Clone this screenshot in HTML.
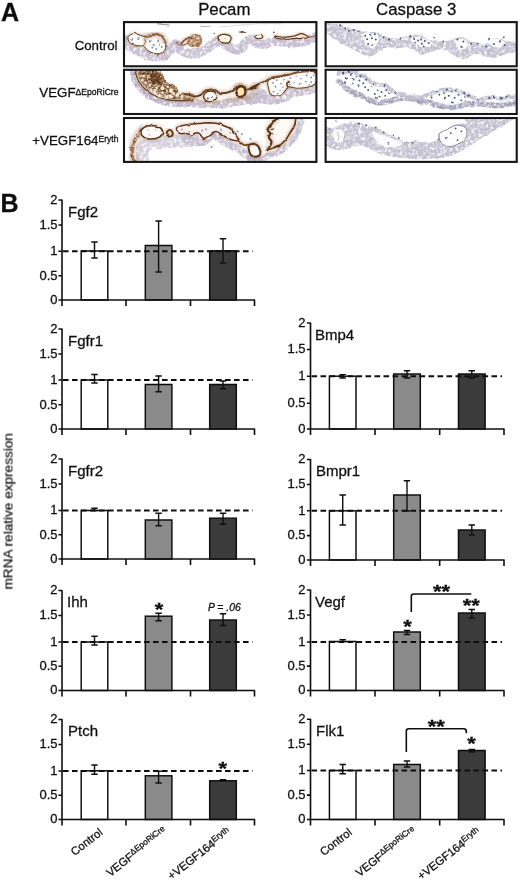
<!DOCTYPE html>
<html lang="en"><head><meta charset="utf-8"><title>Figure</title>
<style>html,body{margin:0;padding:0;background:#fff}body{width:520px;height:880px;overflow:hidden}svg{display:block}text{font-family:"Liberation Sans", sans-serif;fill:#111;stroke:#111;stroke-width:0.28px}</style></head><body>
<svg width="520" height="880" viewBox="0 0 520 880">
<rect width="520" height="880" fill="#fff"/>
<defs><filter id="soft" x="0" y="0" width="520" height="880" filterUnits="userSpaceOnUse"><feGaussianBlur stdDeviation="0.38"/></filter></defs>
<g filter="url(#soft)">
<text x="1" y="20.5" font-size="25" font-weight="bold">A</text>
<text x="224.3" y="14.8" text-anchor="middle" font-size="16.8">Pecam</text>
<text x="416.2" y="14.8" text-anchor="middle" font-size="16.8">Caspase 3</text>
<text x="117.5" y="50" text-anchor="end" font-size="13.3">Control</text>
<text x="118.5" y="97.3" text-anchor="end" font-size="13.3">VEGF<tspan font-size="8.6" dy="-2.8">ΔEpoRiCre</tspan></text>
<text x="118.5" y="145" text-anchor="end" font-size="13.3">+VEGF164<tspan font-size="8.6" dy="-2.8">Eryth</tspan></text>
<defs><filter id="b3" x="-20%" y="-20%" width="140%" height="140%"><feGaussianBlur stdDeviation="0.3"/></filter><filter id="b4" x="-20%" y="-20%" width="140%" height="140%"><feGaussianBlur stdDeviation="0.45"/></filter><filter id="b6" x="-20%" y="-20%" width="140%" height="140%"><feGaussianBlur stdDeviation="0.7"/></filter><filter id="b8" x="-20%" y="-20%" width="140%" height="140%"><feGaussianBlur stdDeviation="0.9"/></filter><filter id="mot" x="-10%" y="-40%" width="120%" height="180%"><feTurbulence type="fractalNoise" baseFrequency="0.3" numOctaves="2" seed="7" result="n"/><feColorMatrix in="n" type="matrix" values="0 0 0 0 0.55  0 0 0 0 0.51  0 0 0 0 0.68  3.8 0 0 0 -1.7" result="s"/><feComposite in="s" in2="SourceGraphic" operator="in" result="sp"/><feColorMatrix in="n" type="matrix" values="0 0 0 0 0  0 0 0 0 0  0 0 0 0 0  0 3.0 0 0 -0.8" result="a"/><feComposite in="SourceGraphic" in2="a" operator="in" result="base"/><feMerge result="m"><feMergeNode in="base"/><feMergeNode in="sp"/></feMerge><feGaussianBlur in="m" stdDeviation="0.55"/></filter><filter id="motc" x="-10%" y="-40%" width="120%" height="180%"><feTurbulence type="fractalNoise" baseFrequency="0.32" numOctaves="2" seed="9" result="n"/><feColorMatrix in="n" type="matrix" values="0 0 0 0 0.5  0 0 0 0 0.49  0 0 0 0 0.62  3.8 0 0 0 -1.7" result="s"/><feComposite in="s" in2="SourceGraphic" operator="in" result="sp"/><feColorMatrix in="n" type="matrix" values="0 0 0 0 0  0 0 0 0 0  0 0 0 0 0  0 3.0 0 0 -0.75" result="a"/><feComposite in="SourceGraphic" in2="a" operator="in" result="base"/><feMerge result="m"><feMergeNode in="base"/><feMergeNode in="sp"/></feMerge><feGaussianBlur in="m" stdDeviation="0.5"/></filter><filter id="mot2" x="-10%" y="-40%" width="120%" height="180%"><feTurbulence type="fractalNoise" baseFrequency="0.4" numOctaves="2" seed="3" result="n"/><feColorMatrix in="n" type="matrix" values="0 0 0 0 0.3  0 0 0 0 0.15  0 0 0 0 0.05  4.0 0 0 0 -1.7" result="s"/><feComposite in="s" in2="SourceGraphic" operator="in" result="sp"/><feColorMatrix in="n" type="matrix" values="0 0 0 0 0  0 0 0 0 0  0 0 0 0 0  0 3.6 0 0 -1.3" result="a"/><feComposite in="SourceGraphic" in2="a" operator="in" result="base"/><feMerge result="m"><feMergeNode in="base"/><feMergeNode in="sp"/></feMerge><feGaussianBlur in="m" stdDeviation="0.4"/></filter><filter id="rough" x="0" y="0" width="520" height="180" filterUnits="userSpaceOnUse"><feTurbulence type="fractalNoise" baseFrequency="0.16" numOctaves="2" seed="11" result="t"/><feDisplacementMap in="SourceGraphic" in2="t" scale="2.6" xChannelSelector="R" yChannelSelector="G" result="d"/><feGaussianBlur in="d" stdDeviation="0.35"/></filter></defs><clipPath id="c00"><rect x="124.5" y="22.5" width="191.5" height="43.3"/></clipPath><g clip-path="url(#c00)"><g filter="url(#rough)"><path d="M124.8 41.1C125.8 42.1 127.9 45.4 130.6 47.2C133.3 49.1 137.8 50.8 141.2 52.2C144.5 53.7 147.2 55.4 150.8 56.1C154.3 56.8 159.1 57.4 162.3 56.5C165.5 55.6 167.8 52.8 170 50.7C172.2 48.6 174.2 44.3 175.8 44C177.4 43.6 177.7 47.3 179.6 48.8C181.5 50.3 184.4 52.3 187.3 53C190.2 53.7 193.7 53.6 196.9 53C200.1 52.4 203.7 50.8 206.5 49.2C209.4 47.5 212 44.6 214.2 43C216.5 41.4 219 40.1 220 39.5" fill="none" stroke="#c3bbca" stroke-width="9.5" stroke-linecap="round" stroke-linejoin="round" opacity="0.95" filter="url(#mot)"/><path d="M220 39.5C221 40.4 223.5 43.4 225.8 44.9C228 46.5 231.1 48 233.5 48.8C235.9 49.6 238.3 50.7 240.2 49.7C242.1 48.8 243.1 44.7 245 43C246.9 41.3 249.5 39.4 251.7 39.5C254 39.7 256.1 43.2 258.5 44C260.9 44.7 263.9 44.4 266.2 44C268.4 43.5 269.4 41.8 271.9 41.5C274.5 41.1 278 41.8 281.5 42C285.1 42.3 289.6 43 293.1 43C296.6 43 299.8 42.7 302.7 42C305.6 41.4 308.2 40.1 310.4 39.2C312.5 38.3 314.7 37.1 315.6 36.7" fill="none" stroke="#c3bbca" stroke-width="9" stroke-linecap="round" stroke-linejoin="round" opacity="0.95" filter="url(#mot)"/><path d="M125.4 37.2C125.8 38 127.3 41.2 127.7 42" fill="none" stroke="#c3bbca" stroke-width="5" stroke-linecap="round" stroke-linejoin="round" opacity="0.8" filter="url(#mot)"/><path d="M157.5 23.8C158.5 23.9 161.3 24.3 163.3 24.5C165.2 24.7 168.1 24.9 169 24.9" fill="none" stroke="#5e4e42" stroke-width="0.9" stroke-linecap="round" stroke-linejoin="round" opacity="0.75" filter="url(#b4)"/><path d="M200.8 26.1C201.6 26.2 204 26.5 205.6 26.7C207.2 26.8 209.6 26.8 210.4 26.8" fill="none" stroke="#5e4e42" stroke-width="0.9" stroke-linecap="round" stroke-linejoin="round" opacity="0.6" filter="url(#b4)"/><path d="M220 26.8C221.9 26.7 227.4 26.2 231.5 25.9C235.7 25.5 240.5 25.1 245 24.7C249.5 24.4 252.1 23.9 258.5 23.8C264.9 23.6 279.3 23.8 283.5 23.8" fill="none" stroke="#9a9088" stroke-width="0.7" stroke-linecap="round" stroke-linejoin="round" opacity="0.45" filter="url(#b4)"/><path d="M128.1 36.8C128.7 35.3 131.8 33.9 134.1 33.7C136.5 33.6 139.7 35.3 142.2 35.9C144.7 36.5 146.7 37.5 148.9 37.2C151.2 37 153.3 34.5 155.6 34.5C158 34.6 161.4 36 163 37.5C164.7 39 165.4 41.4 165.7 43.6C166 45.7 165.8 48.6 164.8 50.3C163.8 52 161.7 53.2 159.7 53.6C157.7 54.1 155 53.7 153 53.1C150.9 52.5 149.1 51.4 147.6 50.3C146 49.1 145.3 47 143.5 46.2C141.7 45.5 139 46.1 136.8 45.6C134.6 45 131.5 44.3 130.1 42.9C128.6 41.4 127.4 38.3 128.1 36.8Z" fill="none" stroke="#b08a6c" stroke-width="3.8" stroke-linecap="round" stroke-linejoin="round" opacity="0.3" filter="url(#b8)"/><path d="M128.1 36.8C128.7 35.3 131.8 33.9 134.1 33.7C136.5 33.6 139.7 35.3 142.2 35.9C144.7 36.5 146.7 37.5 148.9 37.2C151.2 37 153.3 34.5 155.6 34.5C158 34.6 161.4 36 163 37.5C164.7 39 165.4 41.4 165.7 43.6C166 45.7 165.8 48.6 164.8 50.3C163.8 52 161.7 53.2 159.7 53.6C157.7 54.1 155 53.7 153 53.1C150.9 52.5 149.1 51.4 147.6 50.3C146 49.1 145.3 47 143.5 46.2C141.7 45.5 139 46.1 136.8 45.6C134.6 45 131.5 44.3 130.1 42.9C128.6 41.4 127.4 38.3 128.1 36.8Z" fill="#fdfbf9" stroke="#5a3014" stroke-width="1" stroke-linejoin="round" opacity="1" filter="url(#b4)"/><path d="M145.6 36.4C146.5 36.2 149.1 35.4 150.9 35.1C152.7 34.7 154.4 34 156.3 34.3C158.2 34.6 160.9 35.6 162.4 37C163.9 38.3 164.8 41.3 165.3 42.2" fill="none" stroke="#b08a6c" stroke-width="7.4" stroke-linecap="round" stroke-linejoin="round" opacity="0.3" filter="url(#b8)"/><path d="M145.6 36.4C146.5 36.2 149.1 35.4 150.9 35.1C152.7 34.7 154.4 34 156.3 34.3C158.2 34.6 160.9 35.6 162.4 37C163.9 38.3 164.8 41.3 165.3 42.2" fill="none" stroke="#7d4520" stroke-width="2.4" stroke-linecap="round" stroke-linejoin="round" opacity="0.95" filter="url(#mot2)"/><path d="M143.5 45.6C143.9 45 145.3 43.3 145.6 42.2C145.8 41.1 145 39.4 144.9 38.8" fill="none" stroke="#b08a6c" stroke-width="3.8" stroke-linecap="round" stroke-linejoin="round" opacity="0.3" filter="url(#b8)"/><path d="M143.5 45.6C143.9 45 145.3 43.3 145.6 42.2C145.8 41.1 145 39.4 144.9 38.8" fill="none" stroke="#7d4520" stroke-width="1" stroke-linecap="round" stroke-linejoin="round" opacity="0.8" filter="url(#b4)"/><g fill="#5b69a6" opacity="0.85" filter="url(#b3)"><circle cx="132.1" cy="39.9" r="0.9"/><circle cx="138.2" cy="38.2" r="0.9"/><circle cx="149.6" cy="41.5" r="0.9"/><circle cx="153.6" cy="44.9" r="0.9"/><circle cx="158.3" cy="41.5" r="0.9"/><circle cx="156.3" cy="48.9" r="0.9"/><circle cx="152.3" cy="47.6" r="0.9"/><circle cx="161.7" cy="46.9" r="0.9"/><circle cx="159" cy="44.9" r="0.9"/></g><path d="M187.6 40.2C187.8 38.6 188.7 36.5 190 35.5C191.3 34.4 193.6 33.9 195.4 34C197.2 34.1 199.7 34.6 200.8 35.9C201.9 37.1 202.1 39.8 201.9 41.5C201.7 43.3 200.9 45.3 199.5 46.2C198 47.1 195.2 47.1 193.4 46.9C191.6 46.7 189.7 46 188.7 44.9C187.7 43.8 187.4 41.8 187.6 40.2Z" fill="#7d4520" opacity="0.95" filter="url(#mot2)"/><path d="M187.6 40.2C187.8 38.6 188.7 36.5 190 35.5C191.3 34.4 193.6 33.9 195.4 34C197.2 34.1 199.7 34.6 200.8 35.9C201.9 37.1 202.1 39.8 201.9 41.5C201.7 43.3 200.9 45.3 199.5 46.2C198 47.1 195.2 47.1 193.4 46.9C191.6 46.7 189.7 46 188.7 44.9C187.7 43.8 187.4 41.8 187.6 40.2Z" fill="#b98a60" opacity="0.45" filter="url(#b8)"/><g fill="#fbf1e6" opacity="1" filter="url(#b3)"><circle cx="196.2" cy="38.3" r="1.1"/><circle cx="191.7" cy="40.5" r="1.1"/></g><path d="M175.8 42.6C176.7 43.1 179.6 45.2 181.5 45.3C183.5 45.4 186.7 43.7 187.7 43.4" fill="none" stroke="#b08a6c" stroke-width="3.8" stroke-linecap="round" stroke-linejoin="round" opacity="0.3" filter="url(#b8)"/><path d="M175.8 42.6C176.7 43.1 179.6 45.2 181.5 45.3C183.5 45.4 186.7 43.7 187.7 43.4" fill="none" stroke="#7d4520" stroke-width="1" stroke-linecap="round" stroke-linejoin="round" opacity="0.8" filter="url(#b4)"/><path d="M181.2 43.6C181.8 43 183.2 41.2 184.6 40.2C185.9 39.2 188.1 37.8 189.3 37.5C190.5 37.2 191.5 38.1 192 38.2" fill="none" stroke="#b08a6c" stroke-width="5.4" stroke-linecap="round" stroke-linejoin="round" opacity="0.3" filter="url(#b8)"/><path d="M181.2 43.6C181.8 43 183.2 41.2 184.6 40.2C185.9 39.2 188.1 37.8 189.3 37.5C190.5 37.2 191.5 38.1 192 38.2" fill="none" stroke="#7d4520" stroke-width="1.6" stroke-linecap="round" stroke-linejoin="round" opacity="0.9" filter="url(#b4)"/><path d="M218 37.2C218.3 36.1 220.6 34.9 222.3 34.5C224.1 34.2 226.9 34.6 228.4 35.1C229.9 35.6 230.9 36.3 231.1 37.5C231.2 38.7 230.3 41.3 229.3 42.2C228.3 43.1 226.5 43.3 225 43.1C223.6 43 221.9 42.5 220.7 41.5C219.6 40.5 217.8 38.4 218 37.2Z" fill="none" stroke="#b08a6c" stroke-width="4.3" stroke-linecap="round" stroke-linejoin="round" opacity="0.3" filter="url(#b8)"/><path d="M218 37.2C218.3 36.1 220.6 34.9 222.3 34.5C224.1 34.2 226.9 34.6 228.4 35.1C229.9 35.6 230.9 36.3 231.1 37.5C231.2 38.7 230.3 41.3 229.3 42.2C228.3 43.1 226.5 43.3 225 43.1C223.6 43 221.9 42.5 220.7 41.5C219.6 40.5 217.8 38.4 218 37.2Z" fill="#fbf3e6" stroke="#5a3014" stroke-width="1.2" stroke-linejoin="round" opacity="1" filter="url(#b4)"/><g fill="#7d4520" opacity="0.8" filter="url(#b3)"><circle cx="214.3" cy="33.5" r="0.8"/><circle cx="225.3" cy="38.8" r="0.8"/></g><path d="M239.8 32.1C240.3 32 241.6 31.5 242.5 31.6C243.5 31.6 245 32.2 245.5 32.4" fill="none" stroke="#b08a6c" stroke-width="4.1" stroke-linecap="round" stroke-linejoin="round" opacity="0.3" filter="url(#b8)"/><path d="M239.8 32.1C240.3 32 241.6 31.5 242.5 31.6C243.5 31.6 245 32.2 245.5 32.4" fill="none" stroke="#5a3014" stroke-width="1.1" stroke-linecap="round" stroke-linejoin="round" opacity="0.9" filter="url(#b4)"/><path d="M255 35.3C255.9 34.8 259.5 34.2 260.8 34.5C262.1 34.9 263 36.5 262.7 37.2C262.4 37.9 260.1 38.7 258.8 38.8C257.6 38.8 256 38 255.4 37.4C254.7 36.8 254.1 35.8 255 35.3Z" fill="none" stroke="#b08a6c" stroke-width="4" stroke-linecap="round" stroke-linejoin="round" opacity="0.3" filter="url(#b8)"/><path d="M255 35.3C255.9 34.8 259.5 34.2 260.8 34.5C262.1 34.9 263 36.5 262.7 37.2C262.4 37.9 260.1 38.7 258.8 38.8C257.6 38.8 256 38 255.4 37.4C254.7 36.8 254.1 35.8 255 35.3Z" fill="#fdf6ee" stroke="#5a3014" stroke-width="1.1" stroke-linejoin="round" opacity="1" filter="url(#b4)"/><g fill="#7d4520" opacity="0.9" filter="url(#b3)"><circle cx="242.1" cy="32.4" r="0.9"/><circle cx="273.8" cy="32.4" r="0.9"/></g><path d="M275.2 36.1C276.3 35.9 280.2 37.3 283.5 37.2C286.7 37.2 291.7 36.5 294.6 35.9C297.5 35.3 299 33.7 300.8 33.6C302.6 33.4 304.1 34.3 305.4 34.9C306.7 35.6 309.2 36.8 308.5 37.4C307.7 38 302.9 38.4 300.8 38.6C298.7 38.7 298.5 38.3 296 38.4C293.4 38.5 288.6 39.4 285.4 39.3C282.2 39.3 278.4 38.5 276.7 38C275 37.5 274.1 36.2 275.2 36.1Z" fill="none" stroke="#b08a6c" stroke-width="4" stroke-linecap="round" stroke-linejoin="round" opacity="0.3" filter="url(#b8)"/><path d="M275.2 36.1C276.3 35.9 280.2 37.3 283.5 37.2C286.7 37.2 291.7 36.5 294.6 35.9C297.5 35.3 299 33.7 300.8 33.6C302.6 33.4 304.1 34.3 305.4 34.9C306.7 35.6 309.2 36.8 308.5 37.4C307.7 38 302.9 38.4 300.8 38.6C298.7 38.7 298.5 38.3 296 38.4C293.4 38.5 288.6 39.4 285.4 39.3C282.2 39.3 278.4 38.5 276.7 38C275 37.5 274.1 36.2 275.2 36.1Z" fill="#f6e4cd" stroke="#5a3014" stroke-width="1.1" stroke-linejoin="round" opacity="1" filter="url(#b4)"/><path d="M308.5 37.4C309.1 37.3 311.1 37.1 312.3 36.8C313.5 36.6 315 35.9 315.6 35.7" fill="none" stroke="#b08a6c" stroke-width="3.8" stroke-linecap="round" stroke-linejoin="round" opacity="0.3" filter="url(#b8)"/><path d="M308.5 37.4C309.1 37.3 311.1 37.1 312.3 36.8C313.5 36.6 315 35.9 315.6 35.7" fill="none" stroke="#7d4520" stroke-width="1" stroke-linecap="round" stroke-linejoin="round" opacity="0.8" filter="url(#b4)"/></g></g><rect x="124" y="22.1" width="192.4" height="44.2" fill="none" stroke="#151515" stroke-width="2.1"/><clipPath id="c01"><rect x="124.5" y="70.3" width="191.5" height="43.3"/></clipPath><g clip-path="url(#c01)"><g filter="url(#rough)"><path d="M132.8 71.8C133.3 73.5 133.8 78.6 135.7 82C137.6 85.4 140.8 89.4 144.1 92.2C147.3 95.1 151.2 97.4 155.4 99.2C159.6 101.1 164.5 102.5 169.1 103.3C173.7 104 178.8 103.9 182.8 103.8C186.9 103.7 191.6 102.9 193.3 102.7" fill="none" stroke="#b4abc0" stroke-width="6" stroke-linecap="round" stroke-linejoin="round" opacity="1" filter="url(#mot)"/><path d="M186 101.6C188.2 102.1 195 103.5 199.5 104.1C203.9 104.6 208.4 105.1 212.9 105C217.4 104.9 221.9 103.9 226.4 103.3C230.9 102.6 234.7 101.6 239.8 101C245 100.4 254.4 99.9 257.3 99.6" fill="none" stroke="#c3bbca" stroke-width="8.5" stroke-linecap="round" stroke-linejoin="round" opacity="0.95" filter="url(#mot)"/><path d="M250 96.9C251.3 97.2 255.2 97.8 258.1 98.3C261 98.7 264.4 99.4 267.5 99.6C270.6 99.9 274.1 100.1 276.9 99.6C279.7 99.2 282.1 98.1 284.3 96.9C286.6 95.8 287.6 93.9 290.4 92.9C293.2 91.9 297.8 91.7 301.1 91.1C304.5 90.6 308.1 90.4 310.6 89.5C313.1 88.6 315.3 86.4 316.2 85.8" fill="none" stroke="#c3bbca" stroke-width="9.5" stroke-linecap="round" stroke-linejoin="round" opacity="0.95" filter="url(#mot)"/><path d="M252.7 88.2C253.8 88.7 257.4 90.4 259.4 91.6C261.4 92.7 263.9 94.4 264.8 94.9" fill="none" stroke="#c3bbca" stroke-width="8" stroke-linecap="round" stroke-linejoin="round" opacity="0.9" filter="url(#mot)"/><path d="M137.9 71C138.9 69.3 143.6 70.2 146.2 70.2C148.9 70.1 151 69.9 153.6 70.4C156.3 71 160 71.5 162.1 73.4C164.2 75.2 163.9 79.4 166.1 81.5C168.4 83.5 173.5 83.9 175.6 85.5C177.6 87.1 176.9 89.9 178.5 91.1C180.1 92.4 182.8 92.5 185.3 92.9C187.7 93.3 192 92.8 193.3 93.8C194.7 94.9 195.1 98.3 193.3 99.2C191.5 100.1 186.6 99.4 182.6 99.2C178.5 99.1 173.4 99.2 169.1 98.4C164.8 97.6 160.7 96.1 157 94.4C153.3 92.7 149.7 90.5 146.9 88.2C144.1 85.9 141.7 83.3 140.2 80.4C138.7 77.5 136.9 72.7 137.9 71Z" fill="#b98a60" opacity="0.4" filter="url(#b6)"/><path d="M137.9 71C138.9 69.3 143.6 70.2 146.2 70.2C148.9 70.1 151 69.9 153.6 70.4C156.3 71 160 71.5 162.1 73.4C164.2 75.2 163.9 79.4 166.1 81.5C168.4 83.5 173.5 83.9 175.6 85.5C177.6 87.1 176.9 89.9 178.5 91.1C180.1 92.4 182.8 92.5 185.3 92.9C187.7 93.3 192 92.8 193.3 93.8C194.7 94.9 195.1 98.3 193.3 99.2C191.5 100.1 186.6 99.4 182.6 99.2C178.5 99.1 173.4 99.2 169.1 98.4C164.8 97.6 160.7 96.1 157 94.4C153.3 92.7 149.7 90.5 146.9 88.2C144.1 85.9 141.7 83.3 140.2 80.4C138.7 77.5 136.9 72.7 137.9 71Z" fill="#5a3014" opacity="0.95" filter="url(#mot2)"/><path d="M147.6 72.7C149.1 71.7 153.3 70.8 155.6 71.2C158 71.6 160.7 73.2 161.8 75C163 76.8 161.4 80.2 162.4 82C163.4 83.7 167.8 84.5 167.8 85.5C167.8 86.5 164.6 88.2 162.4 88.2C160.1 88.1 156.4 86.3 154.3 85.2C152.2 84.1 150.9 82.8 149.6 81.5C148.2 80.2 146.6 78.9 146.2 77.4C145.9 76 146 73.7 147.6 72.7Z" fill="#4a240c" opacity="0.8" filter="url(#mot2)"/><path d="M150.9 74.1C151.7 72.9 154.8 72.7 156.3 73.1C157.8 73.5 159.4 75 160 76.3C160.5 77.7 160.4 80.4 159.7 81.5C159 82.5 156.9 82.8 155.6 82.5C154.3 82.3 152.7 81.5 151.9 80.1C151.1 78.7 150.2 75.2 150.9 74.1Z" fill="#4a240c" opacity="0.55" filter="url(#b8)"/><path d="M135.5 72C136 73.6 137 78.4 138.8 81.5C140.7 84.5 143.5 87.7 146.5 90.2C149.5 92.7 152.9 94.9 156.7 96.5C160.5 98.2 165 99.4 169.4 100C173.7 100.7 178.8 100.6 182.8 100.6C186.8 100.5 191.6 99.9 193.3 99.8" fill="none" stroke="#b08a6c" stroke-width="4.6" stroke-linecap="round" stroke-linejoin="round" opacity="0.3" filter="url(#b8)"/><path d="M135.5 72C136 73.6 137 78.4 138.8 81.5C140.7 84.5 143.5 87.7 146.5 90.2C149.5 92.7 152.9 94.9 156.7 96.5C160.5 98.2 165 99.4 169.4 100C173.7 100.7 178.8 100.6 182.8 100.6C186.8 100.5 191.6 99.9 193.3 99.8" fill="none" stroke="#5a3014" stroke-width="1.3" stroke-linecap="round" stroke-linejoin="round" opacity="0.9" filter="url(#b4)"/><g fill="#fbeedd" opacity="0.95" filter="url(#b3)"><circle cx="150.9" cy="89.5" r="1.3"/><circle cx="156.3" cy="88.2" r="1.3"/><circle cx="162.4" cy="92.9" r="1.3"/><circle cx="155.6" cy="93.6" r="1.3"/><circle cx="167.8" cy="86.8" r="1.3"/><circle cx="173.8" cy="93.6" r="1.3"/><circle cx="166.4" cy="96.9" r="1.3"/><circle cx="143.5" cy="76.1" r="1.3"/><circle cx="145.6" cy="82.8" r="1.3"/><circle cx="150.3" cy="85.2" r="1.3"/><circle cx="166.4" cy="90.9" r="1.3"/><circle cx="142.2" cy="80.1" r="1.3"/></g><g fill="#fdf4e8" opacity="0.92" filter="url(#b3)"><circle cx="171.1" cy="90.2" r="1.9"/><circle cx="177.2" cy="94.9" r="1.9"/><circle cx="182.6" cy="96.5" r="1.9"/><circle cx="187.9" cy="96.3" r="1.9"/><circle cx="162.4" cy="88.2" r="1.9"/><circle cx="159.7" cy="95.6" r="1.9"/><circle cx="170.5" cy="96.3" r="1.9"/><circle cx="179.9" cy="92.2" r="1.9"/><circle cx="191.3" cy="96.9" r="1.9"/><circle cx="154.3" cy="90.9" r="1.9"/></g><path d="M186 94.2C187.3 94.6 191.6 96.4 194.1 96.5C196.5 96.6 199 95.8 200.8 94.9C202.6 94 203 92 204.8 91.1C206.6 90.3 209.6 89.4 211.6 89.5C213.6 89.7 214.7 91.6 217 92.2C219.2 92.8 222.6 93.3 225 93C227.5 92.8 229.7 91.9 231.8 90.9C233.8 89.8 235.3 87.7 237.1 86.8C238.9 86 241 85.6 242.5 86C244.1 86.5 245 89.2 246.6 89.5C248.1 89.9 250.2 88.9 251.9 88.2C253.7 87.5 256.4 85.7 257.3 85.2" fill="none" stroke="#b08a6c" stroke-width="6.1" stroke-linecap="round" stroke-linejoin="round" opacity="0.3" filter="url(#b8)"/><path d="M186 94.2C187.3 94.6 191.6 96.4 194.1 96.5C196.5 96.6 199 95.8 200.8 94.9C202.6 94 203 92 204.8 91.1C206.6 90.3 209.6 89.4 211.6 89.5C213.6 89.7 214.7 91.6 217 92.2C219.2 92.8 222.6 93.3 225 93C227.5 92.8 229.7 91.9 231.8 90.9C233.8 89.8 235.3 87.7 237.1 86.8C238.9 86 241 85.6 242.5 86C244.1 86.5 245 89.2 246.6 89.5C248.1 89.9 250.2 88.9 251.9 88.2C253.7 87.5 256.4 85.7 257.3 85.2" fill="none" stroke="#5a3014" stroke-width="1.9" stroke-linecap="round" stroke-linejoin="round" opacity="0.95" filter="url(#b4)"/><path d="M203.8 95.6C204.2 94.2 205.9 92.3 207.5 91.7C209.2 91 212.1 91 213.6 91.7C215.1 92.3 216.5 94.2 216.7 95.6C216.9 97 216.1 99.3 214.9 100.3C213.7 101.3 211.2 101.7 209.6 101.6C207.9 101.6 206.1 100.8 205.1 99.8C204.1 98.8 203.4 96.9 203.8 95.6Z" fill="none" stroke="#b08a6c" stroke-width="4.5" stroke-linecap="round" stroke-linejoin="round" opacity="0.3" filter="url(#b8)"/><path d="M203.8 95.6C204.2 94.2 205.9 92.3 207.5 91.7C209.2 91 212.1 91 213.6 91.7C215.1 92.3 216.5 94.2 216.7 95.6C216.9 97 216.1 99.3 214.9 100.3C213.7 101.3 211.2 101.7 209.6 101.6C207.9 101.6 206.1 100.8 205.1 99.8C204.1 98.8 203.4 96.9 203.8 95.6Z" fill="#fdfaf6" stroke="#5a3014" stroke-width="1.3" stroke-linejoin="round" opacity="1" filter="url(#b4)"/><g fill="#2e3350" opacity="0.9" filter="url(#b3)"><circle cx="207.8" cy="98.4" r="0.9"/><circle cx="211.8" cy="96.9" r="0.9"/></g><path d="M236.1 90.9C236.1 89.3 237.9 87.5 239.2 86.8C240.4 86.2 242.6 86.3 243.6 87.1C244.7 88 245.6 90.4 245.5 92C245.4 93.5 244.3 95.5 243.2 96.3C242.1 97 239.9 97.4 238.8 96.5C237.6 95.6 236 92.5 236.1 90.9Z" fill="none" stroke="#b08a6c" stroke-width="7.2" stroke-linecap="round" stroke-linejoin="round" opacity="0.3" filter="url(#b8)"/><path d="M236.1 90.9C236.1 89.3 237.9 87.5 239.2 86.8C240.4 86.2 242.6 86.3 243.6 87.1C244.7 88 245.6 90.4 245.5 92C245.4 93.5 244.3 95.5 243.2 96.3C242.1 97 239.9 97.4 238.8 96.5C237.6 95.6 236 92.5 236.1 90.9Z" fill="#fbe4b0" stroke="#5a3014" stroke-width="2.4" stroke-linejoin="round" opacity="1" filter="url(#b4)"/><path d="M186 94.9C187.8 94.8 192.3 97.2 196.8 98.3C201.3 99.4 207.3 101.9 212.9 101.6C218.5 101.4 225 97.7 230.4 96.9C235.8 96.2 240.7 97.7 245.2 96.9C249.7 96.2 255.3 92.3 257.3 92.2C259.4 92.1 259.4 94.9 257.3 96.3C255.3 97.6 249.7 99.5 245.2 100.3C240.7 101.1 235.8 100.3 230.4 101C225 101.7 218.5 104.5 212.9 104.6C207.3 104.7 201.3 102.5 196.8 101.6C192.3 100.8 187.8 100.3 186 99.2C184.2 98.1 184.2 95.1 186 94.9Z" fill="#b98a60" opacity="0.35" filter="url(#b8)"/><path d="M250 88.5C251.3 87.8 255.4 85.7 258.1 84.4C260.8 83.2 263.9 82 266.2 80.9C268.4 79.8 269.1 78.5 271.5 77.7C274 76.9 277.8 76.7 281 76.1C284.1 75.5 287 74.8 290.4 74.1C293.7 73.3 296.8 72.1 301.1 71.6C305.5 71.2 313.7 71.5 316.2 71.5" fill="none" stroke="#b08a6c" stroke-width="5.9" stroke-linecap="round" stroke-linejoin="round" opacity="0.3" filter="url(#b8)"/><path d="M250 88.5C251.3 87.8 255.4 85.7 258.1 84.4C260.8 83.2 263.9 82 266.2 80.9C268.4 79.8 269.1 78.5 271.5 77.7C274 76.9 277.8 76.7 281 76.1C284.1 75.5 287 74.8 290.4 74.1C293.7 73.3 296.8 72.1 301.1 71.6C305.5 71.2 313.7 71.5 316.2 71.5" fill="none" stroke="#5a3014" stroke-width="1.8" stroke-linecap="round" stroke-linejoin="round" opacity="0.95" filter="url(#b4)"/><path d="M267.8 81.5C268.4 80 270 79 272.2 78.2C274.4 77.5 277.9 77.5 281 76.9C284 76.3 287 75.5 290.4 74.7C293.7 74 296.9 72.7 301.1 72.3C305.4 71.9 313.2 70.6 315.7 72.3C318.1 74.1 317 80.4 315.9 82.8C314.9 85.2 312.4 85.9 309.2 86.8C306.1 87.7 300.6 88.1 297.1 88.2C293.6 88.2 290.9 86 288.4 87.1C285.8 88.2 283.9 93.4 281.6 94.9C279.4 96.4 276.8 96.2 274.9 96C273 95.8 271.3 95.1 270.2 93.6C269.1 92 268.6 88.9 268.2 86.8C267.8 84.8 267.1 82.9 267.8 81.5Z" fill="none" stroke="#b08a6c" stroke-width="4" stroke-linecap="round" stroke-linejoin="round" opacity="0.3" filter="url(#b8)"/><path d="M267.8 81.5C268.4 80 270 79 272.2 78.2C274.4 77.5 277.9 77.5 281 76.9C284 76.3 287 75.5 290.4 74.7C293.7 74 296.9 72.7 301.1 72.3C305.4 71.9 313.2 70.6 315.7 72.3C318.1 74.1 317 80.4 315.9 82.8C314.9 85.2 312.4 85.9 309.2 86.8C306.1 87.7 300.6 88.1 297.1 88.2C293.6 88.2 290.9 86 288.4 87.1C285.8 88.2 283.9 93.4 281.6 94.9C279.4 96.4 276.8 96.2 274.9 96C273 95.8 271.3 95.1 270.2 93.6C269.1 92 268.6 88.9 268.2 86.8C267.8 84.8 267.1 82.9 267.8 81.5Z" fill="#fefcfb" stroke="#7d4520" stroke-width="1.1" stroke-linejoin="round" opacity="1" filter="url(#b4)"/><path d="M288.4 87.1C288.1 86.6 286.5 85.1 286.6 84.2C286.7 83.2 288.6 81.9 289 81.5" fill="none" stroke="#b08a6c" stroke-width="5.4" stroke-linecap="round" stroke-linejoin="round" opacity="0.3" filter="url(#b8)"/><path d="M288.4 87.1C288.1 86.6 286.5 85.1 286.6 84.2C286.7 83.2 288.6 81.9 289 81.5" fill="none" stroke="#5a3014" stroke-width="1.6" stroke-linecap="round" stroke-linejoin="round" opacity="0.9" filter="url(#b4)"/><g fill="#5a3014" opacity="0.9" filter="url(#b3)"><circle cx="252" cy="88.5" r="1.4"/><circle cx="255.4" cy="86.8" r="1.4"/></g><g fill="#5b69a6" opacity="0.85" filter="url(#b3)"><circle cx="272.9" cy="82.8" r="0.85"/><circle cx="276.9" cy="80.1" r="0.85"/><circle cx="281" cy="83.5" r="0.85"/><circle cx="275.6" cy="86.8" r="0.85"/><circle cx="278.9" cy="90.2" r="0.85"/><circle cx="273.6" cy="91.6" r="0.85"/><circle cx="283" cy="87.5" r="0.85"/><circle cx="284.3" cy="80.1" r="0.85"/><circle cx="277.6" cy="93.6" r="0.85"/><circle cx="290.4" cy="78.1" r="0.85"/><circle cx="295.8" cy="76.3" r="0.85"/><circle cx="301.1" cy="78.8" r="0.85"/><circle cx="306.5" cy="75.4" r="0.85"/><circle cx="311.2" cy="77.4" r="0.85"/><circle cx="294.4" cy="82.1" r="0.85"/><circle cx="299.8" cy="84.2" r="0.85"/><circle cx="305.9" cy="81.5" r="0.85"/><circle cx="311.2" cy="82.1" r="0.85"/><circle cx="290.4" cy="84.2" r="0.85"/><circle cx="309.2" cy="84.8" r="0.85"/><circle cx="313.9" cy="74.7" r="0.85"/></g></g></g><rect x="124" y="69.8" width="192.4" height="44.2" fill="none" stroke="#151515" stroke-width="2.1"/><clipPath id="c02"><rect x="124.5" y="118.5" width="191.5" height="43"/></clipPath><g clip-path="url(#c02)"><g filter="url(#rough)"><path d="M142.2 160.4C142.2 158.6 141.1 152.5 142.2 149.6C143.3 146.8 145.6 144.8 148.9 143.6C152.3 142.4 157.9 142.7 162.4 142.2C166.9 141.8 170.7 141.2 175.8 140.9C181 140.6 190.4 140.3 193.3 140.2" fill="none" stroke="#c3bbca" stroke-width="13" stroke-linecap="round" stroke-linejoin="round" opacity="0.7" filter="url(#mot)"/><path d="M186 139.1C187.3 139.6 191.2 141.4 194.1 141.8C197 142.3 200.4 142.7 203.5 141.8C206.6 140.9 210 136.9 212.9 136.5C215.8 136 218.3 137.8 221 139.1C223.7 140.5 225.9 142.7 229.1 144.5C232.2 146.3 236.9 148.2 239.8 149.9C242.8 151.7 243.6 153.4 246.6 155C249.5 156.7 255.5 159 257.3 159.7" fill="none" stroke="#c3bbca" stroke-width="7.5" stroke-linecap="round" stroke-linejoin="round" opacity="0.95" filter="url(#mot)"/><path d="M250 158.8C251.3 158.9 255.4 159.7 258.1 159.3C260.8 159 263 157.8 266.2 156.6C269.3 155.5 273.8 154.2 276.9 152.6C280.1 151 282.5 149.2 285 147.2C287.5 145.2 289.7 143 291.7 140.5C293.7 138 295.5 135.6 297.1 132.4C298.7 129.2 300.7 123.2 301.4 121.4" fill="none" stroke="#c3bbca" stroke-width="6" stroke-linecap="round" stroke-linejoin="round" opacity="0.95" filter="url(#mot)"/><path d="M140.8 131.1C139.9 132.4 136.9 136.5 135.5 139.1C134 141.8 132.9 144.6 132.2 147.2C131.6 149.9 131.2 152.5 131.7 155C132.2 157.6 134.8 161.2 135.5 162.4" fill="none" stroke="#b08a6c" stroke-width="9.5" stroke-linecap="round" stroke-linejoin="round" opacity="0.3" filter="url(#b8)"/><path d="M140.8 131.1C139.9 132.4 136.9 136.5 135.5 139.1C134 141.8 132.9 144.6 132.2 147.2C131.6 149.9 131.2 152.5 131.7 155C132.2 157.6 134.8 161.2 135.5 162.4" fill="none" stroke="#7d4520" stroke-width="3.2" stroke-linecap="round" stroke-linejoin="round" opacity="0.9" filter="url(#mot2)"/><path d="M140.8 132.2C140.8 130.5 142.4 128.6 144.2 127.4C146 126.3 149.1 125.5 151.6 125.4C154.1 125.4 157.2 126 159 127C160.9 128.1 162.5 130.2 162.6 131.9C162.8 133.5 161.5 135.7 159.7 136.9C157.8 138.1 154.2 139.1 151.6 139.1C149 139.2 146 138.4 144.2 137.3C142.4 136.1 140.8 133.8 140.8 132.2Z" fill="none" stroke="#b08a6c" stroke-width="5" stroke-linecap="round" stroke-linejoin="round" opacity="0.3" filter="url(#b8)"/><path d="M140.8 132.2C140.8 130.5 142.4 128.6 144.2 127.4C146 126.3 149.1 125.5 151.6 125.4C154.1 125.4 157.2 126 159 127C160.9 128.1 162.5 130.2 162.6 131.9C162.8 133.5 161.5 135.7 159.7 136.9C157.8 138.1 154.2 139.1 151.6 139.1C149 139.2 146 138.4 144.2 137.3C142.4 136.1 140.8 133.8 140.8 132.2Z" fill="#fdfbf9" stroke="#5a3014" stroke-width="1.5" stroke-linejoin="round" opacity="1" filter="url(#b4)"/><g fill="#a09aac" opacity="0.7" filter="url(#b3)"><circle cx="148.2" cy="130.1" r="0.8"/><circle cx="155.6" cy="129.7" r="0.8"/><circle cx="150.3" cy="134.8" r="0.8"/></g><path d="M166.7 132.8C166.8 131.7 168.4 130 169.4 129.9C170.3 129.7 171.9 130.9 172.3 131.9C172.8 132.8 172.7 134.8 172.1 135.5C171.5 136.3 169.7 136.9 168.8 136.5C167.9 136 166.6 133.9 166.7 132.8Z" fill="none" stroke="#b08a6c" stroke-width="5.7" stroke-linecap="round" stroke-linejoin="round" opacity="0.3" filter="url(#b8)"/><path d="M166.7 132.8C166.8 131.7 168.4 130 169.4 129.9C170.3 129.7 171.9 130.9 172.3 131.9C172.8 132.8 172.7 134.8 172.1 135.5C171.5 136.3 169.7 136.9 168.8 136.5C167.9 136 166.6 133.9 166.7 132.8Z" fill="#e8c9a5" stroke="#5a3014" stroke-width="1.8" stroke-linejoin="round" opacity="1" filter="url(#b4)"/><path d="M176.6 128.1C177 126.9 179.3 126.4 182 125.7C184.7 125 189.6 124.5 192.7 124.1C195.9 123.7 198.1 123.6 200.8 123.4C203.5 123.2 206.2 122.7 208.9 122.7C211.6 122.8 214.3 123 217 123.5C219.6 124.1 222.6 125.2 225 126.2C227.5 127.2 230 128.1 231.8 129.6C233.6 131.1 234.7 133.2 235.8 135C236.9 136.8 238.7 139.6 238.2 140.5C237.8 141.4 234.9 140.6 233.1 140.2C231.4 139.8 229.5 139.1 227.7 138.2C225.9 137.3 224.1 135.9 222.3 134.8C220.5 133.7 218.5 132 217 131.6C215.4 131.2 214.3 131.6 212.9 132.3C211.6 133 210.5 134.6 208.9 135.7C207.3 136.7 205.1 138.7 203.5 138.3C201.9 138 200.8 134.5 199.5 133.6C198.1 132.7 196.8 132.7 195.4 133C194.1 133.2 193 134.9 191.4 135C189.8 135.1 188 133.9 186 133.6C184 133.3 180.8 134.1 179.3 133.2C177.7 132.3 176.1 129.4 176.6 128.1Z" fill="none" stroke="#b08a6c" stroke-width="5" stroke-linecap="round" stroke-linejoin="round" opacity="0.3" filter="url(#b8)"/><path d="M176.6 128.1C177 126.9 179.3 126.4 182 125.7C184.7 125 189.6 124.5 192.7 124.1C195.9 123.7 198.1 123.6 200.8 123.4C203.5 123.2 206.2 122.7 208.9 122.7C211.6 122.8 214.3 123 217 123.5C219.6 124.1 222.6 125.2 225 126.2C227.5 127.2 230 128.1 231.8 129.6C233.6 131.1 234.7 133.2 235.8 135C236.9 136.8 238.7 139.6 238.2 140.5C237.8 141.4 234.9 140.6 233.1 140.2C231.4 139.8 229.5 139.1 227.7 138.2C225.9 137.3 224.1 135.9 222.3 134.8C220.5 133.7 218.5 132 217 131.6C215.4 131.2 214.3 131.6 212.9 132.3C211.6 133 210.5 134.6 208.9 135.7C207.3 136.7 205.1 138.7 203.5 138.3C201.9 138 200.8 134.5 199.5 133.6C198.1 132.7 196.8 132.7 195.4 133C194.1 133.2 193 134.9 191.4 135C189.8 135.1 188 133.9 186 133.6C184 133.3 180.8 134.1 179.3 133.2C177.7 132.3 176.1 129.4 176.6 128.1Z" fill="#f9f1f0" stroke="#5a3014" stroke-width="1.5" stroke-linejoin="round" opacity="1" filter="url(#b4)"/><g fill="#8f8ca8" opacity="0.8" filter="url(#b3)"><circle cx="189.4" cy="131.5" r="1.0"/><circle cx="202.2" cy="130.8" r="1.0"/><circle cx="206.2" cy="129.5" r="1.0"/><circle cx="230.4" cy="132.8" r="1.0"/><circle cx="182" cy="129.5" r="1.0"/><circle cx="221" cy="129.5" r="1.0"/></g><g fill="#6a74a6" opacity="0.8" filter="url(#b3)"><circle cx="237.8" cy="131.5" r="1.0"/><circle cx="241.9" cy="134.2" r="1.0"/><circle cx="250.6" cy="138.9" r="1.0"/><circle cx="211.6" cy="147" r="1.0"/></g><path d="M248.9 144.9C250 143.8 253.6 143.7 255.4 144.3C257.1 144.8 258.6 146.7 259.4 148.3C260.2 149.9 260.7 152.3 260.2 153.7C259.8 155.1 258.2 156.4 256.7 156.6C255.2 156.9 252.6 156.2 251.3 155.3C250.1 154.4 249.6 152.7 249.2 151C248.8 149.3 247.9 146.1 248.9 144.9Z" fill="none" stroke="#b08a6c" stroke-width="6.2" stroke-linecap="round" stroke-linejoin="round" opacity="0.3" filter="url(#b8)"/><path d="M248.9 144.9C250 143.8 253.6 143.7 255.4 144.3C257.1 144.8 258.6 146.7 259.4 148.3C260.2 149.9 260.7 152.3 260.2 153.7C259.8 155.1 258.2 156.4 256.7 156.6C255.2 156.9 252.6 156.2 251.3 155.3C250.1 154.4 249.6 152.7 249.2 151C248.8 149.3 247.9 146.1 248.9 144.9Z" fill="#fdfbf9" stroke="#5a3014" stroke-width="2" stroke-linejoin="round" opacity="1" filter="url(#b4)"/><path d="M238.2 140.5C239.2 141.2 242 144.2 243.9 144.9C245.7 145.7 247.6 145.2 249.3 144.9C250.9 144.7 253.2 143.8 254 143.6" fill="none" stroke="#b08a6c" stroke-width="5.4" stroke-linecap="round" stroke-linejoin="round" opacity="0.3" filter="url(#b8)"/><path d="M238.2 140.5C239.2 141.2 242 144.2 243.9 144.9C245.7 145.7 247.6 145.2 249.3 144.9C250.9 144.7 253.2 143.8 254 143.6" fill="none" stroke="#5a3014" stroke-width="1.6" stroke-linecap="round" stroke-linejoin="round" opacity="0.9" filter="url(#b4)"/><path d="M276.9 117.6C281 116.5 292.8 116.3 295.8 117.6C298.7 118.9 295.3 123 294.4 125.4C293.5 127.8 291.7 129.9 290.4 132.2C289 134.4 287.9 136.9 286.3 138.9C284.8 140.9 283 142.8 281 144.3C278.9 145.7 276.4 146.7 274.2 147.6C272 148.5 268.4 150 267.8 149.6C267.1 149.3 269.6 147 270.2 145.6C270.8 144.3 271.8 142.9 271.5 141.6C271.3 140.2 269.1 138.9 268.8 137.5C268.6 136.2 270.4 134.8 270.2 133.5C270 132.2 267.3 131 267.5 129.5C267.7 127.9 270 126 271.5 124.1C273.1 122.1 272.9 118.7 276.9 117.6Z" fill="#fefbf6" opacity="1" filter="url(#b3)"/><path d="M295.2 125.4C294.5 126.6 292.4 130.1 290.9 132.4C289.5 134.7 288.2 137.1 286.6 139.1C285 141.2 283.2 143.1 281.2 144.5C279.2 146 275.6 147.2 274.5 147.8" fill="none" stroke="#e8ad66" stroke-width="2.6" stroke-linecap="round" stroke-linejoin="round" opacity="0.55" filter="url(#b4)"/><path d="M277.6 117.6C276.6 118.7 273.2 122.1 271.5 124.1C269.9 126 267.7 127.9 267.5 129.5C267.3 131 270 132.2 270.2 133.5C270.4 134.8 268.6 136.2 268.8 137.5C269.1 138.9 271.3 140.2 271.5 141.6C271.8 142.9 270.9 144.2 270.2 145.6C269.5 147 267.9 149.2 267.5 149.9" fill="none" stroke="#b08a6c" stroke-width="6.7" stroke-linecap="round" stroke-linejoin="round" opacity="0.3" filter="url(#b8)"/><path d="M277.6 117.6C276.6 118.7 273.2 122.1 271.5 124.1C269.9 126 267.7 127.9 267.5 129.5C267.3 131 270 132.2 270.2 133.5C270.4 134.8 268.6 136.2 268.8 137.5C269.1 138.9 271.3 140.2 271.5 141.6C271.8 142.9 270.9 144.2 270.2 145.6C269.5 147 267.9 149.2 267.5 149.9" fill="none" stroke="#5a3014" stroke-width="2.1" stroke-linecap="round" stroke-linejoin="round" opacity="1" filter="url(#b4)"/><path d="M270.2 129.5C270.7 129.3 273 128.9 273.6 128.8" fill="none" stroke="#5a3014" stroke-width="1.2" stroke-linecap="round" stroke-linejoin="round" opacity="0.9" filter="url(#b4)"/><path d="M270.2 133.5C270.7 133.5 272.7 133.3 273.1 133.2" fill="none" stroke="#5a3014" stroke-width="1.1" stroke-linecap="round" stroke-linejoin="round" opacity="0.9" filter="url(#b4)"/><path d="M296 117.6C295.8 118.9 295.4 123 294.4 125.4C293.5 127.8 291.7 129.9 290.4 132.2C289 134.4 287.9 136.9 286.3 138.9C284.8 140.9 283 142.8 281 144.3C278.9 145.7 276.5 146.7 274.2 147.6C272 148.6 268.6 149.5 267.5 149.9" fill="none" stroke="#b08a6c" stroke-width="5.1" stroke-linecap="round" stroke-linejoin="round" opacity="0.3" filter="url(#b8)"/><path d="M296 117.6C295.8 118.9 295.4 123 294.4 125.4C293.5 127.8 291.7 129.9 290.4 132.2C289 134.4 287.9 136.9 286.3 138.9C284.8 140.9 283 142.8 281 144.3C278.9 145.7 276.5 146.7 274.2 147.6C272 148.6 268.6 149.5 267.5 149.9" fill="none" stroke="#5a3014" stroke-width="1.5" stroke-linecap="round" stroke-linejoin="round" opacity="1" filter="url(#b4)"/></g></g><rect x="124" y="118" width="192.4" height="43.9" fill="none" stroke="#151515" stroke-width="2.1"/><clipPath id="c10"><rect x="326" y="22.5" width="190.2" height="43.3"/></clipPath><g clip-path="url(#c10)"><g filter="url(#rough)"><path d="M324.2 23.4C325.8 22.2 330.6 23.5 333.5 23.8C336.3 24 338.6 24.1 341.2 24.9C343.7 25.7 346 27.8 348.8 28.6C351.7 29.3 356.1 29 358.5 29.5C360.9 30.1 360.1 31.4 363.3 31.8C366.5 32.3 374.3 31.5 377.7 32.2C381.1 33 380.9 35.3 383.5 36.3C386 37.3 389.9 38 393.1 38.2C396.3 38.4 399.8 37.7 402.7 37.2C405.6 36.7 407.4 35.5 410.4 35.3C413.4 35.1 419 33.6 420.8 36.3C422.5 38.9 422.2 48.9 420.8 51.1C419.4 53.2 415 49.8 412.3 49.2C409.6 48.5 407.2 47.4 404.6 47.2C402.1 47.1 399.8 48.2 396.9 48.2C394 48.2 390.2 46.8 387.3 47.2C384.4 47.7 382.2 49.6 379.6 51.1C377.1 52.5 374.5 55.2 371.9 55.9C369.4 56.5 367.1 55.9 364.2 54.9C361.3 54 357.8 51.7 354.6 50.1C351.4 48.5 348.2 47.1 345 45.3C341.8 43.5 338.8 42 335.4 39.5C331.9 37.1 326.1 33.4 324.2 30.7C322.4 28 322.7 24.5 324.2 23.4Z" fill="#c6c2d0" opacity="0.95" filter="url(#motc)"/><path d="M419.2 36.3C420.6 33.8 424.7 38.4 427.7 39.2C430.7 40 434.1 40.8 437.3 41.1C440.5 41.4 444 41.6 446.9 41.1C449.8 40.6 452.1 38.8 454.6 38.2C457.2 37.6 459.7 36.7 462.3 37.2C464.9 37.7 467.4 40.1 470 41.1C472.6 42 475.1 42.5 477.7 43C480.3 43.5 483.1 44.4 485.4 44C487.6 43.5 488.9 41.1 491.2 40.1C493.4 39.2 496.3 38 498.8 38.2C501.4 38.4 503.8 40.4 506.5 41.1C509.3 41.7 514 40.5 515.6 42C517.2 43.5 517.3 48.3 516.2 50.1C515 51.9 511 52 508.5 53C505.9 54 503.7 55.1 500.8 55.9C497.9 56.7 494.4 58 491.2 57.8C487.9 57.6 484.4 55.6 481.5 54.9C478.7 54.3 476.4 53.3 473.8 54C471.3 54.6 468.7 58.1 466.2 58.8C463.6 59.4 461.3 58.9 458.5 57.8C455.6 56.7 451.7 53.5 448.8 52C446 50.6 444.4 49.2 441.2 49.2C437.9 49.2 433.3 51.2 429.6 52C426 52.8 421 56.6 419.2 54C417.5 51.3 417.8 38.7 419.2 36.3Z" fill="#c6c2d0" opacity="0.95" filter="url(#motc)"/><path d="M362.7 34.5C363.7 33.2 367.9 33.3 370.4 33.4C372.9 33.4 376.4 33.6 377.7 34.9C379 36.2 378.8 39 378.3 41.1C377.7 43.2 375.9 46.7 374.2 47.6C372.6 48.6 370.1 47.9 368.5 46.8C366.8 45.8 365.2 43.5 364.2 41.5C363.3 39.4 361.7 35.9 362.7 34.5Z" fill="#fff" opacity="0.95" filter="url(#b6)"/><path d="M410.8 38C411.5 37.2 414.5 36.8 416.2 36.8C417.8 36.8 420 36.8 420.8 38C421.5 39.2 421.7 42.7 420.8 43.8C419.9 44.8 416.9 44.5 415.4 44.2C413.8 43.8 412.3 42.9 411.5 41.8C410.8 40.8 410 38.8 410.8 38Z" fill="#fff" opacity="0.9" filter="url(#b6)"/><path d="M419.2 38.4C420.3 37.3 423.8 38.9 425.8 39.5C427.8 40.2 430.5 41.1 431.2 42.2C431.8 43.4 430.8 45.6 429.6 46.5C428.4 47.3 425.6 47.3 423.8 47.2C422.1 47.2 420 47.6 419.2 46.1C418.5 44.6 418.1 39.5 419.2 38.4Z" fill="#fff" opacity="0.9" filter="url(#b6)"/><path d="M456.2 40.3C457.1 39.2 460.4 38.4 462.3 38.8C464.2 39.1 466.7 40.7 467.3 42.2C467.9 43.8 467.3 46.8 466.2 48C465 49.2 462 49.5 460.4 49.2C458.8 48.8 457.2 47.2 456.5 45.7C455.8 44.2 455.2 41.5 456.2 40.3Z" fill="#fff" opacity="0.9" filter="url(#b6)"/><path d="M488.5 41.8C488.6 40.6 491.8 39.5 493.8 39.2C495.9 38.8 499 38.9 500.8 39.5C502.6 40.2 504.6 41.8 504.6 43C504.6 44.2 502.7 46.2 500.8 46.8C498.8 47.5 495.1 47.7 493.1 46.8C491 46 488.3 43.1 488.5 41.8Z" fill="#fff" opacity="0.9" filter="url(#b6)"/><g fill="#3d4470" opacity="0.9" filter="url(#b3)"><circle cx="365.2" cy="35.7" r="1.0"/><circle cx="370" cy="34.7" r="1.0"/><circle cx="374.8" cy="34.2" r="1.0"/><circle cx="367.1" cy="39.2" r="1.0"/><circle cx="371.9" cy="38.2" r="1.0"/><circle cx="375.8" cy="39.5" r="1.0"/><circle cx="368.1" cy="44" r="1.0"/><circle cx="371.9" cy="44.9" r="1.0"/><circle cx="414.2" cy="38" r="1.0"/><circle cx="418.1" cy="40.5" r="1.0"/><circle cx="415.2" cy="42.4" r="1.0"/><circle cx="348.8" cy="30.7" r="1.0"/><circle cx="353.7" cy="29.9" r="1.0"/><circle cx="358.5" cy="31.1" r="1.0"/><circle cx="410.4" cy="36.5" r="1.0"/><circle cx="340.2" cy="25.3" r="1.0"/><circle cx="345" cy="28" r="1.0"/><circle cx="383.5" cy="37.2" r="1.0"/><circle cx="389.2" cy="39.5" r="1.0"/><circle cx="400.8" cy="38.4" r="1.0"/></g><g fill="#3d4470" opacity="0.9" filter="url(#b3)"><circle cx="421" cy="39.5" r="1.0"/><circle cx="424.8" cy="41.1" r="1.0"/><circle cx="421.9" cy="43.8" r="1.0"/><circle cx="428.7" cy="43" r="1.0"/><circle cx="423.8" cy="46.5" r="1.0"/><circle cx="434.4" cy="38" r="1.0"/><circle cx="457.5" cy="39.5" r="1.0"/><circle cx="461.3" cy="46.8" r="1.0"/><circle cx="463.3" cy="41.5" r="1.0"/><circle cx="471" cy="42.6" r="1.0"/><circle cx="489.2" cy="38.8" r="1.0"/><circle cx="494" cy="44" r="1.0"/><circle cx="499.8" cy="41.5" r="1.0"/><circle cx="503.7" cy="37.2" r="1.0"/><circle cx="486.3" cy="46.5" r="1.0"/><circle cx="504.6" cy="44.9" r="1.0"/><circle cx="443.1" cy="41.5" r="1.0"/><circle cx="477.7" cy="43.8" r="1.0"/></g></g></g><rect x="325.6" y="22.1" width="191.1" height="44.2" fill="none" stroke="#151515" stroke-width="2.1"/><clipPath id="c11"><rect x="326" y="70.3" width="190.2" height="43.3"/></clipPath><g clip-path="url(#c11)"><g filter="url(#rough)"><path d="M339.2 81.4C340.2 82.3 342.8 85.4 345 87.2C347.2 88.9 349.8 90.7 352.7 92.2C355.6 93.6 359.4 94.6 362.3 96C365.2 97.4 367.4 99.5 370 100.6C372.6 101.7 374.8 102.5 377.7 102.7C380.6 102.9 384.1 102.4 387.3 101.8C390.5 101.1 393.7 99.5 396.9 98.9C400.1 98.2 403.3 97.8 406.5 97.9C409.7 98.1 413.8 99.4 416.2 99.8C418.5 100.3 420 100.6 420.8 100.8" fill="none" stroke="#9c97b2" stroke-width="5.5" stroke-linecap="round" stroke-linejoin="round" opacity="0.95" filter="url(#motc)"/><path d="M338.3 73.7C339.4 73.3 342.3 71.6 345 71.4C347.7 71.2 351.7 71.7 354.6 72.3C357.5 73 360.1 73.9 362.3 75.2C364.6 76.5 365.8 78.8 368.1 80.2C370.3 81.7 372.9 83.1 375.8 84.1C378.7 85 382.8 85 385.4 86C387.9 87 389.2 88.6 391.2 89.8C393.1 91.1 394.7 92.5 396.9 93.3C399.2 94.1 402.1 94.3 404.6 94.8C407.2 95.4 409.6 96.3 412.3 96.8C415 97.3 419.4 97.7 420.8 97.9" fill="none" stroke="#c6c2d0" stroke-width="4.2" stroke-linecap="round" stroke-linejoin="round" opacity="0.95" filter="url(#motc)"/><g fill="#c6c2d0" opacity="0.8" filter="url(#b3)"><circle cx="336.9" cy="80.6" r="1.4"/></g><g fill="#3d4470" opacity="0.9" filter="url(#b3)"><circle cx="346.9" cy="77.5" r="1.0"/><circle cx="350.8" cy="74.7" r="1.0"/><circle cx="353.7" cy="79.5" r="1.0"/><circle cx="356.5" cy="76.6" r="1.0"/><circle cx="359.4" cy="80.4" r="1.0"/><circle cx="352.7" cy="84.3" r="1.0"/><circle cx="358.5" cy="85.2" r="1.0"/><circle cx="363.3" cy="83.3" r="1.0"/><circle cx="365.2" cy="87.2" r="1.0"/><circle cx="368.1" cy="90" r="1.0"/><circle cx="371.9" cy="87.2" r="1.0"/><circle cx="374.8" cy="93.9" r="1.0"/><circle cx="377.7" cy="90" r="1.0"/><circle cx="381.5" cy="92" r="1.0"/><circle cx="379.6" cy="96.8" r="1.0"/><circle cx="384.4" cy="95.8" r="1.0"/><circle cx="386.3" cy="90" r="1.0"/><circle cx="375.8" cy="97.7" r="1.0"/><circle cx="389.2" cy="92.9" r="1.0"/><circle cx="396" cy="92.9" r="1.0"/><circle cx="343.1" cy="73.7" r="1.0"/><circle cx="348.8" cy="71.8" r="1.0"/><circle cx="360.4" cy="75.6" r="1.0"/><circle cx="366.2" cy="79.5" r="1.0"/><circle cx="373.8" cy="84.3" r="1.0"/><circle cx="383.5" cy="86" r="1.0"/><circle cx="345" cy="82.3" r="1.0"/></g><path d="M419.2 101.4C421 101.6 426.3 102 429.6 102.7C432.9 103.4 436 104.8 439.2 105.6C442.4 106.4 445.6 107.4 448.8 107.5C452.1 107.7 455.3 107.2 458.5 106.6C461.7 105.9 464.9 104.2 468.1 103.7C471.3 103.2 474.5 103.5 477.7 103.7C480.9 103.9 484.1 104.3 487.3 104.7C490.5 105 493.7 105.6 496.9 105.6C500.1 105.6 503.3 105.1 506.5 104.7C509.7 104.2 514.6 103.1 516.2 102.7" fill="none" stroke="#9c97b2" stroke-width="5.5" stroke-linecap="round" stroke-linejoin="round" opacity="0.95" filter="url(#motc)"/><path d="M419.2 97.9C420.6 97.4 424.7 96.2 427.7 95C430.7 93.9 434.1 92.1 437.3 91.2C440.5 90.3 443.7 89.8 446.9 89.7C450.1 89.5 453.7 89.7 456.5 90.2C459.4 90.8 461.7 92 464.2 93.1C466.8 94.2 469.4 95.8 471.9 97C474.5 98.1 477.1 99.7 479.6 99.8C482.2 100 484.7 98.4 487.3 97.9C489.9 97.4 492.4 96.8 495 97C497.6 97.1 500.1 98.9 502.7 98.9C505.3 98.9 508.1 97.1 510.4 97C512.6 96.8 515.2 97.8 516.2 97.9" fill="none" stroke="#c6c2d0" stroke-width="4.2" stroke-linecap="round" stroke-linejoin="round" opacity="0.95" filter="url(#motc)"/><g fill="#3d4470" opacity="0.9" filter="url(#b3)"><circle cx="439.2" cy="94.8" r="1.0"/><circle cx="444" cy="92.9" r="1.0"/><circle cx="448.8" cy="95.8" r="1.0"/><circle cx="451.7" cy="92" r="1.0"/><circle cx="454.6" cy="97.7" r="1.0"/><circle cx="458.5" cy="94.8" r="1.0"/><circle cx="452.7" cy="101.6" r="1.0"/><circle cx="461.3" cy="100.6" r="1.0"/><circle cx="465.2" cy="97.7" r="1.0"/><circle cx="445" cy="98.7" r="1.0"/><circle cx="469" cy="95.8" r="1.0"/><circle cx="489.2" cy="97.7" r="1.0"/><circle cx="494" cy="96.8" r="1.0"/><circle cx="506.5" cy="96.8" r="1.0"/><circle cx="437.3" cy="91" r="1.0"/><circle cx="446.9" cy="89.5" r="1.0"/><circle cx="456.5" cy="90.2" r="1.0"/><circle cx="464.2" cy="93.3" r="1.0"/><circle cx="431.5" cy="96.8" r="1.0"/><circle cx="477.7" cy="99.1" r="1.0"/><circle cx="500.8" cy="98.3" r="1.0"/></g></g></g><rect x="325.6" y="69.8" width="191.1" height="44.2" fill="none" stroke="#151515" stroke-width="2.1"/><clipPath id="c12"><rect x="326" y="118.5" width="190.2" height="43"/></clipPath><g clip-path="url(#c12)"><g filter="url(#rough)"><path d="M323.8 126.5C325.1 124.1 329 128.6 331.5 128.4C334.1 128.3 336.3 126.7 339.2 125.5C342.1 124.4 345.6 122.2 348.8 121.7C352.1 121.2 354.9 122 358.5 122.7C362 123.3 366.8 124.6 370 125.5C373.2 126.5 374.8 127.1 377.7 128.4C380.6 129.7 384.1 131.6 387.3 133.2C390.5 134.8 393.7 136.6 396.9 138C400.1 139.5 402.6 141.1 406.5 141.9C410.5 142.7 418.4 140.2 420.8 142.8C423.1 145.5 424.1 155.4 420.8 157.8C417.4 160.3 406.3 158 400.8 157.7C395.2 157.3 391.2 156.5 387.3 155.7C383.5 154.9 380.9 154.1 377.7 152.8C374.5 151.6 371.3 149.3 368.1 148C364.9 146.8 361.7 145.2 358.5 145.2C355.3 145.2 352.1 147.2 348.8 148C345.6 148.8 342.4 150 339.2 150C336 150 332.2 149.2 329.6 148C327.1 146.9 324.8 146.4 323.8 142.8C322.9 139.3 322.6 128.9 323.8 126.5Z" fill="#c6c2d0" opacity="0.95" filter="url(#motc)"/><path d="M419.2 142.8C421 140.4 426.6 143.5 429.6 142.8C432.6 142.2 435.7 140.6 437.3 139C438.9 137.4 437.6 134.8 439.2 133.2C440.8 131.6 444 130.8 446.9 129.4C449.8 127.9 453.7 125.7 456.5 124.6C459.4 123.5 462.3 124 464.2 122.7C466.2 121.3 460.4 117.7 468.1 116.7C475.8 115.7 503.6 115.9 510.4 116.7C517.2 117.5 510.4 119.9 508.8 121.7C507.2 123.5 503.7 125.7 500.8 127.5C497.8 129.2 494.4 130.5 491.2 132.3C487.9 134 484.7 136 481.5 138C478.3 140.1 475.1 142.7 471.9 144.8C468.7 146.9 465.5 148.8 462.3 150.5C459.1 152.3 455.9 154.2 452.7 155.3C449.5 156.5 446.6 157.1 443.1 157.7C439.6 158.2 435.5 158.6 431.5 158.6C427.6 158.6 421.3 160.3 419.2 157.7C417.2 155 417.5 145.3 419.2 142.8Z" fill="#c6c2d0" opacity="0.95" filter="url(#motc)"/><path d="M333.5 130.9C334.2 129.2 337.5 129.3 339.2 129.4C341 129.5 343.1 130.1 343.8 131.7C344.6 133.3 344.2 137.1 343.5 139C342.7 140.9 340.7 142.7 339.2 142.8C337.8 143 335.6 141.9 334.6 140C333.7 138 332.7 132.7 333.5 130.9Z" fill="#fff" opacity="0.9" filter="url(#b6)"/><path d="M372.3 131.7C373.5 130.7 378.7 133.3 383.5 135.2C388.2 137 398.5 140.9 400.8 142.8C403.1 144.8 400.2 146.2 397.3 146.7C394.4 147.2 387 146.8 383.5 145.9C379.9 145 378 143.7 376.2 141.3C374.3 138.9 371.1 132.7 372.3 131.7Z" fill="#fff" opacity="0.92" filter="url(#b6)"/><path d="M337.7 132.3C337.9 133.1 338.8 135.6 338.8 137.1C338.8 138.5 337.9 140.3 337.7 140.9" fill="none" stroke="#9c97b2" stroke-width="0.8" stroke-linecap="round" stroke-linejoin="round" opacity="0.6" filter="url(#b4)"/><g fill="#4a4c70" opacity="0.85" filter="url(#b3)"><circle cx="336.3" cy="120.7" r="0.9"/><circle cx="345" cy="116.9" r="0.9"/><circle cx="358.5" cy="123.6" r="0.9"/><circle cx="366.2" cy="125.5" r="0.9"/><circle cx="375.8" cy="127.5" r="0.9"/><circle cx="383.5" cy="132.3" r="0.9"/><circle cx="393.1" cy="135.2" r="0.9"/><circle cx="398.8" cy="138" r="0.9"/><circle cx="406.5" cy="141.9" r="0.9"/><circle cx="412.3" cy="142.8" r="0.9"/><circle cx="388.3" cy="142.8" r="0.9"/><circle cx="329.6" cy="129.4" r="0.9"/></g><path d="M439.2 134.2C440.2 131.9 444 130.9 446.9 129.4C449.8 127.9 453.5 125.5 456.5 125.2C459.6 124.8 463.4 126 465.2 127.5C467 129 467.4 131.9 467.1 134.2C466.8 136.4 465 139.2 463.3 140.9C461.5 142.7 458.9 143.8 456.5 144.8C454.1 145.7 451.4 147 448.8 146.7C446.3 146.4 442.8 144.9 441.2 142.8C439.6 140.8 438.3 136.4 439.2 134.2Z" fill="#fff" stroke="#77748e" stroke-width="0.9" stroke-linejoin="round" opacity="0.95" filter="url(#b6)"/><g fill="#3d3f60" opacity="0.9" filter="url(#b3)"><circle cx="446.9" cy="138" r="0.9"/><circle cx="455.6" cy="128.4" r="0.9"/><circle cx="461.3" cy="131.3" r="0.9"/><circle cx="457.5" cy="140" r="0.9"/><circle cx="450.8" cy="133.2" r="0.9"/></g></g></g><rect x="325.6" y="118" width="191.1" height="43.9" fill="none" stroke="#151515" stroke-width="2.1"/>
<text x="0.5" y="212.3" font-size="25" font-weight="bold">B</text>
<text transform="translate(12.5 589.5) rotate(-90)" font-size="13.6" style="stroke-width:0.22px">mRNA relative expression</text>
<g><rect x="81.2" y="251" width="26.6" height="49" fill="#fff" stroke="#111" stroke-width="1.5"/><rect x="145.3" y="245.5" width="26.6" height="54.5" fill="#8a8a8a" stroke="#111" stroke-width="1.5"/><rect x="209.7" y="250.8" width="26.6" height="49.2" fill="#3a3a3a" stroke="#111" stroke-width="1.5"/><line x1="63" y1="251.2" x2="252.5" y2="251.2" stroke="#111" stroke-width="1.9" stroke-dasharray="5.6 3.4"/><path d="M94.5 242V258M91.3 242H97.7M91.3 258H97.7" stroke="#111" stroke-width="1.4" fill="none"/><path d="M158.6 221V272M155.4 221H161.8M155.4 272H161.8" stroke="#111" stroke-width="1.4" fill="none"/><path d="M223 238.8V263M219.8 238.8H226.2M219.8 263H226.2" stroke="#111" stroke-width="1.4" fill="none"/><path d="M62 199.5V300H255.1M58.4 200H62M58.4 224.95H62M58.4 251.2H62M58.4 275.7H62M58.4 300H62M62 300V306M126 300V306M190.5 300V306M254.5 300V306" stroke="#111" stroke-width="1.6" fill="none"/><text x="57.5" y="203.9" text-anchor="end" font-size="13">2</text><text x="57.5" y="228.85" text-anchor="end" font-size="13">1.5</text><text x="57.5" y="255.1" text-anchor="end" font-size="13">1</text><text x="57.5" y="279.6" text-anchor="end" font-size="13">0.5</text><text x="57.5" y="303.9" text-anchor="end" font-size="13">0</text><text x="68" y="216.5" font-size="15">Fgf2</text></g>
<g><rect x="81.2" y="380" width="26.6" height="49" fill="#fff" stroke="#111" stroke-width="1.5"/><rect x="145.3" y="384.5" width="26.6" height="44.5" fill="#8a8a8a" stroke="#111" stroke-width="1.5"/><rect x="209.7" y="384.5" width="26.6" height="44.5" fill="#3a3a3a" stroke="#111" stroke-width="1.5"/><line x1="63" y1="380" x2="252.5" y2="380" stroke="#111" stroke-width="1.9" stroke-dasharray="5.6 3.4"/><path d="M94.5 374.5V383M91.3 374.5H97.7M91.3 383H97.7" stroke="#111" stroke-width="1.4" fill="none"/><path d="M158.6 376V391.8M155.4 376H161.8M155.4 391.8H161.8" stroke="#111" stroke-width="1.4" fill="none"/><path d="M223 381V388.8M219.8 381H226.2M219.8 388.8H226.2" stroke="#111" stroke-width="1.4" fill="none"/><path d="M62 328.5V429H255.1M58.4 329H62M58.4 353.95H62M58.4 380H62M58.4 404.7H62M58.4 429H62M62 429V435M126 429V435M190.5 429V435M254.5 429V435" stroke="#111" stroke-width="1.6" fill="none"/><text x="57.5" y="332.9" text-anchor="end" font-size="13">2</text><text x="57.5" y="357.85" text-anchor="end" font-size="13">1.5</text><text x="57.5" y="383.9" text-anchor="end" font-size="13">1</text><text x="57.5" y="408.6" text-anchor="end" font-size="13">0.5</text><text x="57.5" y="432.9" text-anchor="end" font-size="13">0</text><text x="68" y="345.5" font-size="15">Fgfr1</text></g>
<g><rect x="81.2" y="510.5" width="26.6" height="48.5" fill="#fff" stroke="#111" stroke-width="1.5"/><rect x="145.3" y="520" width="26.6" height="39" fill="#8a8a8a" stroke="#111" stroke-width="1.5"/><rect x="209.7" y="518.2" width="26.6" height="40.8" fill="#3a3a3a" stroke="#111" stroke-width="1.5"/><line x1="63" y1="510.5" x2="252.5" y2="510.5" stroke="#111" stroke-width="1.9" stroke-dasharray="5.6 3.4"/><path d="M94.5 508.2V510.5M91.3 508.2H97.7M91.3 510.5H97.7" stroke="#111" stroke-width="1.4" fill="none"/><path d="M158.6 513.2V525.8M155.4 513.2H161.8M155.4 525.8H161.8" stroke="#111" stroke-width="1.4" fill="none"/><path d="M223 513.2V524.2M219.8 513.2H226.2M219.8 524.2H226.2" stroke="#111" stroke-width="1.4" fill="none"/><path d="M62 458.5V559H255.1M58.4 459H62M58.4 483.95H62M58.4 510.5H62M58.4 534.7H62M58.4 559H62M62 559V565M126 559V565M190.5 559V565M254.5 559V565" stroke="#111" stroke-width="1.6" fill="none"/><text x="57.5" y="462.9" text-anchor="end" font-size="13">2</text><text x="57.5" y="487.85" text-anchor="end" font-size="13">1.5</text><text x="57.5" y="514.4" text-anchor="end" font-size="13">1</text><text x="57.5" y="538.6" text-anchor="end" font-size="13">0.5</text><text x="57.5" y="562.9" text-anchor="end" font-size="13">0</text><text x="68" y="475.5" font-size="15">Fgfr2</text></g>
<g><rect x="81.2" y="642" width="26.6" height="48.5" fill="#fff" stroke="#111" stroke-width="1.5"/><rect x="145.3" y="616.2" width="26.6" height="74.3" fill="#8a8a8a" stroke="#111" stroke-width="1.5"/><rect x="209.7" y="620" width="26.6" height="70.5" fill="#3a3a3a" stroke="#111" stroke-width="1.5"/><line x1="63" y1="642" x2="252.5" y2="642" stroke="#111" stroke-width="1.9" stroke-dasharray="5.6 3.4"/><path d="M94.5 636.2V645M91.3 636.2H97.7M91.3 645H97.7" stroke="#111" stroke-width="1.4" fill="none"/><path d="M158.6 613.2V620.8M155.4 613.2H161.8M155.4 620.8H161.8" stroke="#111" stroke-width="1.4" fill="none"/><path d="M223 613.8V625.5M219.8 613.8H226.2M219.8 625.5H226.2" stroke="#111" stroke-width="1.4" fill="none"/><path d="M62 590V690.5H255.1M58.4 590.5H62M58.4 615.45H62M58.4 642H62M58.4 666.2H62M58.4 690.5H62M62 690.5V696.5M126 690.5V696.5M190.5 690.5V696.5M254.5 690.5V696.5" stroke="#111" stroke-width="1.6" fill="none"/><text x="57.5" y="594.4" text-anchor="end" font-size="13">2</text><text x="57.5" y="619.35" text-anchor="end" font-size="13">1.5</text><text x="57.5" y="645.9" text-anchor="end" font-size="13">1</text><text x="57.5" y="670.1" text-anchor="end" font-size="13">0.5</text><text x="57.5" y="694.4" text-anchor="end" font-size="13">0</text><text x="67" y="607" font-size="15">Ihh</text></g>
<g><rect x="81.2" y="770.8" width="26.6" height="48.7" fill="#fff" stroke="#111" stroke-width="1.5"/><rect x="145.3" y="775.8" width="26.6" height="43.7" fill="#8a8a8a" stroke="#111" stroke-width="1.5"/><rect x="209.7" y="780.8" width="26.6" height="38.7" fill="#3a3a3a" stroke="#111" stroke-width="1.5"/><line x1="63" y1="771" x2="252.5" y2="771" stroke="#111" stroke-width="1.9" stroke-dasharray="5.6 3.4"/><path d="M94.5 765V774.2M91.3 765H97.7M91.3 774.2H97.7" stroke="#111" stroke-width="1.4" fill="none"/><path d="M158.6 771.2V783M155.4 771.2H161.8M155.4 783H161.8" stroke="#111" stroke-width="1.4" fill="none"/><path d="M223 779.6V780.8M219.8 779.6H226.2M219.8 780.8H226.2" stroke="#111" stroke-width="1.4" fill="none"/><path d="M62 719V819.5H255.1M58.4 719.5H62M58.4 744.45H62M58.4 771H62M58.4 795.2H62M58.4 819.5H62M62 819.5V825.5M126 819.5V825.5M190.5 819.5V825.5M254.5 819.5V825.5" stroke="#111" stroke-width="1.6" fill="none"/><text x="57.5" y="723.4" text-anchor="end" font-size="13">2</text><text x="57.5" y="748.35" text-anchor="end" font-size="13">1.5</text><text x="57.5" y="774.9" text-anchor="end" font-size="13">1</text><text x="57.5" y="799.1" text-anchor="end" font-size="13">0.5</text><text x="57.5" y="823.4" text-anchor="end" font-size="13">0</text><text x="68" y="736" font-size="15">Ptch</text></g>
<g><rect x="329.4" y="376.2" width="26.6" height="52.8" fill="#fff" stroke="#111" stroke-width="1.5"/><rect x="393.7" y="374" width="26.6" height="55" fill="#8a8a8a" stroke="#111" stroke-width="1.5"/><rect x="458.5" y="374" width="26.6" height="55" fill="#3a3a3a" stroke="#111" stroke-width="1.5"/><line x1="311.5" y1="376.2" x2="502" y2="376.2" stroke="#111" stroke-width="1.9" stroke-dasharray="5.6 3.4"/><path d="M342.7 374.6V378M339.5 374.6H345.9M339.5 378H345.9" stroke="#111" stroke-width="1.4" fill="none"/><path d="M407 370.8V378M403.8 370.8H410.2M403.8 378H410.2" stroke="#111" stroke-width="1.4" fill="none"/><path d="M471.8 370.8V378M468.6 370.8H475M468.6 378H475" stroke="#111" stroke-width="1.4" fill="none"/><path d="M310.5 322.5V429H504.6M306.9 323H310.5M306.9 349.45H310.5M306.9 376.2H310.5M306.9 403.24H310.5M306.9 429H310.5M310.5 429V435M375 429V435M439.7 429V435M504 429V435" stroke="#111" stroke-width="1.6" fill="none"/><text x="305.5" y="326.9" text-anchor="end" font-size="13">2</text><text x="305.5" y="353.35" text-anchor="end" font-size="13">1.5</text><text x="305.5" y="380.1" text-anchor="end" font-size="13">1</text><text x="305.5" y="407.14" text-anchor="end" font-size="13">0.5</text><text x="305.5" y="432.9" text-anchor="end" font-size="13">0</text><text x="315" y="339.5" font-size="15">Bmp4</text></g>
<g><rect x="329.4" y="510.8" width="26.6" height="49.2" fill="#fff" stroke="#111" stroke-width="1.5"/><rect x="393.7" y="495" width="26.6" height="65" fill="#8a8a8a" stroke="#111" stroke-width="1.5"/><rect x="458.5" y="530" width="26.6" height="30" fill="#3a3a3a" stroke="#111" stroke-width="1.5"/><line x1="311.5" y1="510.8" x2="502" y2="510.8" stroke="#111" stroke-width="1.9" stroke-dasharray="5.6 3.4"/><path d="M342.7 495V525M339.5 495H345.9M339.5 525H345.9" stroke="#111" stroke-width="1.4" fill="none"/><path d="M407 480.8V511M403.8 480.8H410.2M403.8 511H410.2" stroke="#111" stroke-width="1.4" fill="none"/><path d="M471.8 525V535M468.6 525H475M468.6 535H475" stroke="#111" stroke-width="1.4" fill="none"/><path d="M310.5 459V560H504.6M306.9 459.5H310.5M306.9 484.57H310.5M306.9 510.8H310.5M306.9 535.58H310.5M306.9 560H310.5M310.5 560V566M375 560V566M439.7 560V566M504 560V566" stroke="#111" stroke-width="1.6" fill="none"/><text x="305.5" y="463.4" text-anchor="end" font-size="13">2</text><text x="305.5" y="488.47" text-anchor="end" font-size="13">1.5</text><text x="305.5" y="514.7" text-anchor="end" font-size="13">1</text><text x="305.5" y="539.48" text-anchor="end" font-size="13">0.5</text><text x="305.5" y="563.9" text-anchor="end" font-size="13">0</text><text x="316" y="476" font-size="15">Bmpr1</text></g>
<g><rect x="329.4" y="641.5" width="26.6" height="49" fill="#fff" stroke="#111" stroke-width="1.5"/><rect x="393.7" y="632" width="26.6" height="58.5" fill="#8a8a8a" stroke="#111" stroke-width="1.5"/><rect x="458.5" y="613" width="26.6" height="77.5" fill="#3a3a3a" stroke="#111" stroke-width="1.5"/><line x1="311.5" y1="642" x2="502" y2="642" stroke="#111" stroke-width="1.9" stroke-dasharray="5.6 3.4"/><path d="M342.7 639.6V641.5M339.5 639.6H345.9M339.5 641.5H345.9" stroke="#111" stroke-width="1.4" fill="none"/><path d="M407 630.5V634.5M403.8 630.5H410.2M403.8 634.5H410.2" stroke="#111" stroke-width="1.4" fill="none"/><path d="M471.8 609.5V618M468.6 609.5H475M468.6 618H475" stroke="#111" stroke-width="1.4" fill="none"/><path d="M310.5 589.5V690.5H504.6M306.9 590H310.5M306.9 615.07H310.5M306.9 642H310.5M306.9 666.08H310.5M306.9 690.5H310.5M310.5 690.5V696.5M375 690.5V696.5M439.7 690.5V696.5M504 690.5V696.5" stroke="#111" stroke-width="1.6" fill="none"/><text x="305.5" y="593.9" text-anchor="end" font-size="13">2</text><text x="305.5" y="618.97" text-anchor="end" font-size="13">1.5</text><text x="305.5" y="645.9" text-anchor="end" font-size="13">1</text><text x="305.5" y="669.98" text-anchor="end" font-size="13">0.5</text><text x="305.5" y="694.4" text-anchor="end" font-size="13">0</text><text x="315" y="606.5" font-size="15">Vegf</text></g>
<g><rect x="329.4" y="770.5" width="26.6" height="49" fill="#fff" stroke="#111" stroke-width="1.5"/><rect x="393.7" y="764.5" width="26.6" height="55" fill="#8a8a8a" stroke="#111" stroke-width="1.5"/><rect x="458.5" y="750.5" width="26.6" height="69" fill="#3a3a3a" stroke="#111" stroke-width="1.5"/><line x1="311.5" y1="770.5" x2="502" y2="770.5" stroke="#111" stroke-width="1.9" stroke-dasharray="5.6 3.4"/><path d="M342.7 764.5V773.8M339.5 764.5H345.9M339.5 773.8H345.9" stroke="#111" stroke-width="1.4" fill="none"/><path d="M407 761V767M403.8 761H410.2M403.8 767H410.2" stroke="#111" stroke-width="1.4" fill="none"/><path d="M471.8 749.4V752M468.6 749.4H475M468.6 752H475" stroke="#111" stroke-width="1.4" fill="none"/><path d="M310.5 718.8V819.5H504.6M306.9 719.3H310.5M306.9 744.3H310.5M306.9 770.5H310.5M306.9 795.15H310.5M306.9 819.5H310.5M310.5 819.5V825.5M375 819.5V825.5M439.7 819.5V825.5M504 819.5V825.5" stroke="#111" stroke-width="1.6" fill="none"/><text x="305.5" y="723.2" text-anchor="end" font-size="13">2</text><text x="305.5" y="748.2" text-anchor="end" font-size="13">1.5</text><text x="305.5" y="774.4" text-anchor="end" font-size="13">1</text><text x="305.5" y="799.05" text-anchor="end" font-size="13">0.5</text><text x="305.5" y="823.4" text-anchor="end" font-size="13">0</text><text x="316" y="735.8" font-size="15">Flk1</text></g>
<text transform="translate(159 616.35) scale(1.2 1)" text-anchor="middle" font-size="18.3" font-weight="bold">*</text>
<text x="224.3" y="611.2" text-anchor="middle" font-size="10.4" font-style="italic">P = .06</text>
<text transform="translate(222.9 774.55) scale(1.2 1)" text-anchor="middle" font-size="18.3" font-weight="bold">*</text>
<text transform="translate(407.5 632.75) scale(1.2 1)" text-anchor="middle" font-size="18.3" font-weight="bold">*</text>
<text transform="translate(471.3 611.85) scale(1.2 1)" text-anchor="middle" font-size="18.3" font-weight="bold">**</text>
<text transform="translate(441.6 597.95) scale(1.2 1)" text-anchor="middle" font-size="18.3" font-weight="bold">**</text>
<text transform="translate(436.3 732.55) scale(1.2 1)" text-anchor="middle" font-size="18.3" font-weight="bold">**</text>
<text transform="translate(471.5 750.05) scale(1.2 1)" text-anchor="middle" font-size="18.3" font-weight="bold">*</text>
<path d="M411.3 612V596.5Q411.3 594 413.8 594H471.3" fill="none" stroke="#111" stroke-width="1.6"/>
<path d="M406.3 752V731.3Q406.3 728.8 408.8 728.8H463.8Q466.3 728.8 466.3 731.3V733.2" fill="none" stroke="#111" stroke-width="1.6"/>
<text transform="translate(103.5 833.7) rotate(-38)" text-anchor="end" font-size="11.4">Control</text>
<text transform="translate(167.6 832.3) rotate(-38)" text-anchor="end" font-size="11.4">VEGF<tspan font-size="8.4" dy="-3.4">ΔEpoRiCre</tspan></text>
<text transform="translate(231.5 833.3) rotate(-38)" text-anchor="end" font-size="11.4">+VEGF164<tspan font-size="8.4" dy="-3.4">Eryth</tspan></text>
<text transform="translate(352.7 833.7) rotate(-38)" text-anchor="end" font-size="11.4">Control</text>
<text transform="translate(417 832.3) rotate(-38)" text-anchor="end" font-size="11.4">VEGF<tspan font-size="8.4" dy="-3.4">ΔEpoRiCre</tspan></text>
<text transform="translate(481.3 833.3) rotate(-38)" text-anchor="end" font-size="11.4">+VEGF164<tspan font-size="8.4" dy="-3.4">Eryth</tspan></text>
</g>
</svg></body></html>
